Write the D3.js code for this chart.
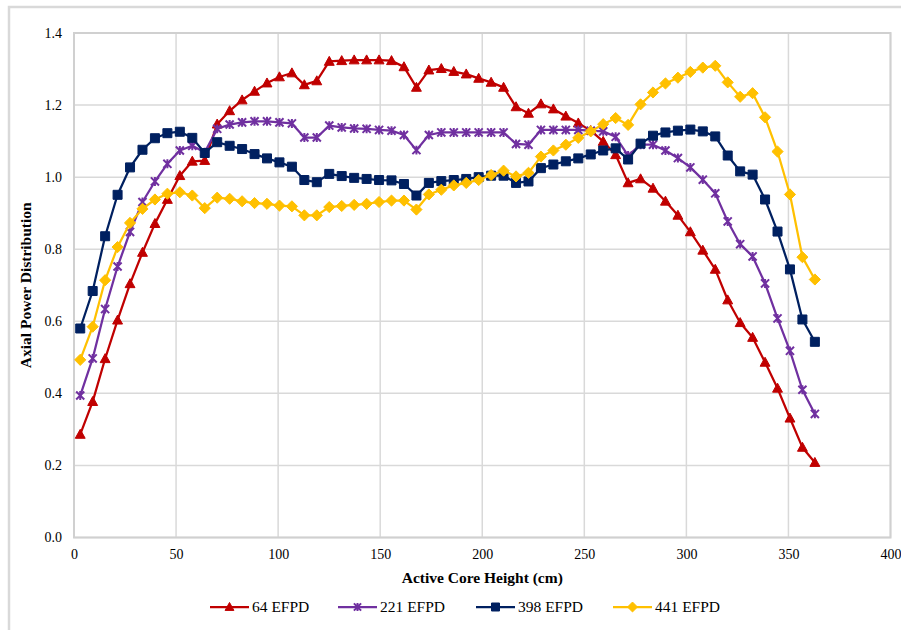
<!DOCTYPE html>
<html>
<head>
<meta charset="utf-8">
<script src="https://cdn.jsdelivr.net/npm/d3@7"></script>
<style>
  body { margin: 0; background: #fff; }
  svg, svg text { font-family: "Liberation Serif", "Times New Roman", serif !important; }
</style>
</head>
<body>
<div id="stage"></div>
<script>
// axial node centres (cm)
const heights = [3.05, 9.15, 15.25, 21.35, 27.45, 33.55, 39.65, 45.75, 51.85, 57.95,
  64.05, 70.15, 76.25, 82.35, 88.45, 94.55, 100.65, 106.75, 112.85, 118.95,
  125.05, 131.15, 137.25, 143.35, 149.45, 155.55, 161.65, 167.75, 173.85, 179.95,
  186.05, 192.15, 198.25, 204.35, 210.45, 216.55, 222.65, 228.75, 234.85, 240.95,
  247.05, 253.15, 259.25, 265.35, 271.45, 277.55, 283.65, 289.75, 295.85, 301.95,
  308.05, 314.15, 320.25, 326.35, 332.45, 338.55, 344.65, 350.75, 356.85, 362.95];

const efpd64 = [0.286, 0.377, 0.496, 0.603, 0.704, 0.791, 0.871, 0.938, 1.004, 1.044,
  1.046, 1.147, 1.184, 1.214, 1.238, 1.261, 1.278, 1.289, 1.256, 1.267,
  1.321, 1.323, 1.325, 1.325, 1.325, 1.323, 1.306, 1.249, 1.297, 1.301,
  1.293, 1.286, 1.274, 1.263, 1.249, 1.195, 1.177, 1.203, 1.189, 1.169,
  1.150, 1.129, 1.099, 1.062, 0.984, 0.995, 0.969, 0.933, 0.894, 0.848,
  0.797, 0.744, 0.659, 0.596, 0.555, 0.486, 0.414, 0.331, 0.250, 0.208];

const efpd221 = [0.394, 0.497, 0.634, 0.752, 0.848, 0.931, 0.988, 1.037, 1.074, 1.087,
  1.069, 1.134, 1.146, 1.152, 1.155, 1.155, 1.152, 1.149, 1.110, 1.110,
  1.143, 1.138, 1.135, 1.134, 1.131, 1.129, 1.117, 1.075, 1.117, 1.124,
  1.124, 1.124, 1.124, 1.124, 1.124, 1.092, 1.090, 1.131, 1.131, 1.131,
  1.131, 1.129, 1.127, 1.112, 1.060, 1.090, 1.090, 1.074, 1.053, 1.027,
  0.993, 0.955, 0.877, 0.814, 0.780, 0.705, 0.608, 0.518, 0.410, 0.343];

const efpd398 = [0.580, 0.684, 0.836, 0.951, 1.027, 1.076, 1.108, 1.122, 1.126, 1.109,
  1.067, 1.097, 1.087, 1.078, 1.064, 1.052, 1.041, 1.029, 0.992, 0.986,
  1.009, 1.003, 0.998, 0.995, 0.992, 0.991, 0.981, 0.949, 0.984, 0.989,
  0.992, 0.995, 1.000, 1.004, 1.004, 0.984, 0.988, 1.025, 1.035, 1.044,
  1.052, 1.063, 1.074, 1.080, 1.049, 1.093, 1.115, 1.124, 1.129, 1.132,
  1.127, 1.113, 1.060, 1.016, 1.007, 0.938, 0.849, 0.744, 0.605, 0.543];

const efpd441 = [0.493, 0.585, 0.714, 0.806, 0.873, 0.912, 0.938, 0.954, 0.958, 0.949,
  0.914, 0.943, 0.940, 0.933, 0.928, 0.926, 0.921, 0.919, 0.894, 0.894,
  0.917, 0.920, 0.923, 0.926, 0.931, 0.935, 0.935, 0.910, 0.952, 0.965,
  0.977, 0.984, 0.992, 1.006, 1.018, 1.002, 1.012, 1.057, 1.074, 1.090,
  1.109, 1.127, 1.147, 1.164, 1.145, 1.202, 1.235, 1.260, 1.276, 1.292,
  1.304, 1.309, 1.263, 1.223, 1.233, 1.166, 1.071, 0.952, 0.778, 0.716];

const seriesNames = ["64 EFPD", "221 EFPD", "398 EFPD", "441 EFPD"];
const xTicks = [0, 50, 100, 150, 200, 250, 300, 350, 400];
const yTicks = [0, 0.2, 0.4, 0.6, 0.8, 1.0, 1.2, 1.4];

const series = [
  { name: seriesNames[0], values: efpd64, color: "#C00000", marker: "triangle" },
  { name: seriesNames[1], values: efpd221, color: "#7030A0", marker: "star" },
  { name: seriesNames[2], values: efpd398, color: "#002060", marker: "square" },
  { name: seriesNames[3], values: efpd441, color: "#FFC000", marker: "diamond" }
];

const W = 901, H = 630;
const plot = { left: 74, right: 890.5, top: 33, bottom: 537.5 };

const x = d3.scaleLinear().domain([0, 400]).range([plot.left, plot.right]);
const y = d3.scaleLinear().domain([0, 1.4]).range([plot.bottom, plot.top]);

const svg = d3.select("#stage").append("svg")
  .attr("width", W)
  .attr("height", H);

// chart frame
svg.append("rect")
  .attr("x", 9).attr("y", 7)
  .attr("width", W + 20).attr("height", H + 20)
  .attr("fill", "none")
  .attr("stroke", "#d9d9d9")
  .attr("stroke-width", 2.5);

// gridlines
svg.append("g")
  .selectAll("line")
  .data(xTicks)
  .join("line")
  .attr("x1", d => x(d)).attr("x2", d => x(d))
  .attr("y1", plot.top).attr("y2", plot.bottom)
  .attr("stroke", "#d9d9d9").attr("stroke-width", 1.5);

svg.append("g")
  .selectAll("line")
  .data(yTicks)
  .join("line")
  .attr("x1", plot.left).attr("x2", plot.right)
  .attr("y1", d => y(d)).attr("y2", d => y(d))
  .attr("stroke", "#d9d9d9").attr("stroke-width", 1.5);

svg.append("rect")
  .attr("x", plot.left).attr("y", plot.top)
  .attr("width", plot.right - plot.left).attr("height", plot.bottom - plot.top)
  .attr("fill", "none")
  .attr("stroke", "#d0d0d0")
  .attr("stroke-width", 2);

// axes
const xAxis = svg.append("g")
  .attr("transform", `translate(0,${plot.bottom})`)
  .call(d3.axisBottom(x).tickValues(xTicks).tickSize(0).tickPadding(12).tickFormat(d3.format("d")));
const yAxis = svg.append("g")
  .attr("transform", `translate(${plot.left},0)`)
  .call(d3.axisLeft(y).tickValues(yTicks).tickSize(0).tickPadding(12).tickFormat(d3.format(".1f")));

[xAxis, yAxis].forEach(a => {
  a.attr("font-family", null);
  a.select(".domain").remove();
  a.selectAll("text")
    .attr("font-size", 14)
    .attr("fill", "#000");
});

// axis titles
svg.append("text")
  .attr("x", (plot.left + plot.right) / 2)
  .attr("y", 583)
  .attr("text-anchor", "middle")
  .attr("font-size", 15.5)
  .attr("font-weight", "bold")
  .text("Active Core Height (cm)");

svg.append("text")
  .attr("transform", `translate(31,${(plot.top + plot.bottom) / 2}) rotate(-90)`)
  .attr("text-anchor", "middle")
  .attr("font-size", 15.5)
  .attr("font-weight", "bold")
  .text("Axial Power Distribution");

// markers
const markerPath = (type, s) => {
  if (type === "triangle") {
    const h = s * 0.95;
    return `M0,${-h * 0.6}L${s * 0.55},${h * 0.45}L${-s * 0.55},${h * 0.45}Z`;
  }
  if (type === "square") {
    const a = s / 2;
    return `M${-a},${-a}H${a}V${a}H${-a}Z`;
  }
  if (type === "diamond") {
    const a = s * 0.62;
    return `M0,${-a}L${a},0L0,${a}L${-a},0Z`;
  }
  const a = s * 0.45;
  return `M${-a},${-a}L${a},${a}M${a},${-a}L${-a},${a}M0,${-a * 1.1}V${a * 1.1}`;
};

const drawMarker = (g, type, color, s) => {
  const p = g.append("path").attr("d", markerPath(type, s));
  if (type === "star") {
    p.attr("fill", "none").attr("stroke", color).attr("stroke-width", 2);
  } else {
    p.attr("fill", color).attr("stroke", color).attr("stroke-width", 1);
  }
};

const line = d3.line()
  .x((d, i) => x(heights[i]))
  .y(d => y(d));

series.forEach(s => {
  const g = svg.append("g");
  g.append("path")
    .attr("d", line(s.values))
    .attr("fill", "none")
    .attr("stroke", s.color)
    .attr("stroke-width", 2.25)
    .attr("stroke-linejoin", "round");

  g.selectAll("g")
    .data(s.values)
    .join("g")
    .attr("transform", (d, i) => `translate(${x(heights[i])},${y(d)})`)
    .each(function () { drawMarker(d3.select(this), s.marker, s.color, 9); });
});

// legend
const legendX = [210, 338, 476, 613];
const legend = svg.append("g").attr("transform", "translate(0,607)");
series.forEach((s, i) => {
  const g = legend.append("g").attr("transform", `translate(${legendX[i]},0)`);
  g.append("line")
    .attr("x1", 0).attr("x2", 39)
    .attr("stroke", s.color).attr("stroke-width", 2.25);
  const m = g.append("g").attr("transform", "translate(19.5,0)");
  drawMarker(m, s.marker, s.color, 8);
  g.append("text")
    .attr("x", 42)
    .attr("y", 5)
    .attr("font-size", 15.5)
    .text(s.name);
});
</script>
</body>
</html>
